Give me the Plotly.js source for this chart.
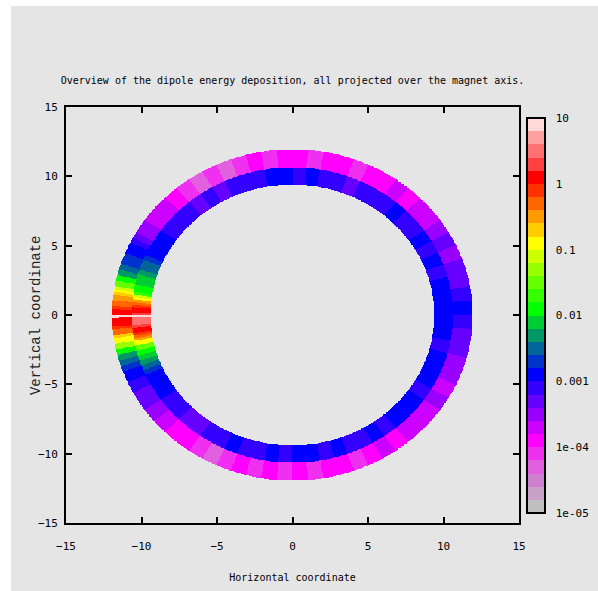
<!DOCTYPE html>
<html><head><meta charset="utf-8">
<script src="https://cdn.plot.ly/plotly-3.0.1.min.js"></script>
<style>html,body{margin:0;padding:0;background:#fff;}#chart{position:absolute;left:11px;top:6px;width:587px;height:585px;}</style>
</head><body><div id="chart"></div>
<script>
const titleText = "Overview of the dipole energy deposition, all projected over the magnet axis.";
const xTitleText = "Horizontal coordinate";
const yTitleText = "Vertical coordinate";
const axisTicks = [-15, -10, -5, 0, 5, 10, 15];

// ring radii: inner edge, boundary between the two layers, outer edge
const ringRadii = [9.4, 10.65, 11.95];

// angular bins (degrees, counter-clockwise from +x)
const angleEdges = [0,5,10,15,20,25,30,35,40,45,50,55,60,65,70,75,80,85,90,95,100,105,110,115,120,125,130,135,140,145,150,
  152,154,156,158,160,162,164,166,168,170,
  171,172,173,174,175,176,177,178,179,180,181,182,183,184,185,186,187,188,189,190,
  192,194,196,198,200,202,204,206,208,210,
  215,220,225,230,235,240,245,250,255,260,265,270,275,280,285,290,295,300,305,310,315,320,325,330,335,340,345,350,355,360];

// energy deposited per bin, inner layer
const innerLayer = [
  1.3e-3,1.3e-3,1.3e-3,8e-4,1.3e-3,8e-4,1.3e-3,8e-4,8e-4,1.3e-3,8e-4,8e-4,8e-4,5e-4,8e-4,8e-4,1.3e-3,8e-4,1.3e-3,1.3e-3,8e-4,8e-4,8e-4,5e-4,8e-4,5e-4,8e-4,8e-4,8e-4,1.3e-3,
  1.3e-3,1.3e-3,1.3e-3,2e-3,3.2e-3,3.2e-3,5e-3,8e-3,8e-3,1.3e-2,
  1.3e-2,2e-2,8e-2,0.13,0.32,0.5,0.8,1.3,1.3,2,8,3.2,3.2,3.2,2,1.3,1.3,0.8,0.5,0.32,
  0.13,3.2e-2,1.3e-2,8e-3,5e-3,3.2e-3,2e-3,1.3e-3,1.3e-3,1.3e-3,
  1.3e-3,8e-4,8e-4,5e-4,5e-4,8e-4,8e-4,1.3e-3,8e-4,8e-4,1.3e-3,8e-4,1.3e-3,1.3e-3,8e-4,1.3e-3,8e-4,8e-4,1.3e-3,8e-4,1.3e-3,1.3e-3,1.3e-3,8e-4,1.3e-3,1.3e-3,1.3e-3,8e-4,1.3e-3,1.3e-3];

// energy deposited per bin, outer layer
const outerLayer = [
  1.3e-3,8e-4,5e-4,5e-4,3.2e-4,5e-4,3.2e-4,2e-4,2e-4,1.3e-4,2e-4,1.3e-4,1.3e-4,8e-5,1.3e-4,1.3e-4,8e-5,1.3e-4,1.3e-4,8e-5,1.3e-4,8e-5,5e-5,8e-5,5e-5,8e-5,1.3e-4,2e-4,2e-4,3.2e-4,
  5e-4,8e-4,1.3e-3,1.3e-3,2e-3,2e-3,3.2e-3,5e-3,1.3e-2,3.2e-2,
  8e-2,0.13,0.2,0.32,0.32,0.5,0.5,0.8,1.3,1.3,8,1.3,1.3,1.3,0.8,0.5,0.5,0.2,0.13,0.13,
  5e-2,1.3e-2,5e-3,3.2e-3,2e-3,1.3e-3,1.3e-3,8e-4,8e-4,5e-4,
  5e-4,3.2e-4,2e-4,1.3e-4,1.3e-4,8e-5,5e-5,8e-5,1.3e-4,8e-5,1.3e-4,8e-5,1.3e-4,8e-5,1.3e-4,1.3e-4,8e-5,1.3e-4,2e-4,1.3e-4,2e-4,2e-4,2e-4,3.2e-4,2e-4,3.2e-4,3.2e-4,5e-4,5e-4,8e-4];

// colour box: 30 discrete bands from 1e-05 up to 10
const bandColors = [
  "#c0c0c0","#c8a0c8","#d080d0","#e060e0","#f030f0",
  "#ff00ff","#cc00ff","#9900ff","#6600ff","#3300ff",
  "#0000ff","#0033cc","#006699","#009966","#00cc33",
  "#00ff00","#33ff00","#66ff00","#99ff00","#ccff00",
  "#ffff00","#ffcc00","#ff9900","#ff6600","#ff3300",
  "#ff0000","#ff4040","#ff7070","#ffa0a0","#ffd8d8"];
const cbTickVals = [-5, -4, -3, -2, -1, 0, 1];
const cbTickText = ["1e-05", "1e-04", "0.001", "0.01", "0.1", "1", "10"];

// build the table the heatmap needs
const step = 0.05, lim = 12.2;
const gx = [];
for (let i = 0; -lim + i * step <= lim + 1e-9; i++) gx.push(+(-lim + i * step).toFixed(3));
const gy = gx.slice();
function binOf(th) {
  for (let i = 0; i < angleEdges.length - 1; i++) if (th >= angleEdges[i] && th < angleEdges[i + 1]) return i;
  return angleEdges.length - 2;
}
const z = gy.map(y => gx.map(x => {
  const r = Math.hypot(x, y);
  if (r < ringRadii[0] || r >= ringRadii[2]) return null;
  let th = Math.atan2(y, x) * 180 / Math.PI;
  if (th < 0) th += 360;
  const i = binOf(th);
  const v = r < ringRadii[1] ? innerLayer[i] : outerLayer[i];
  return Math.log10(v);
}));
const n = bandColors.length;
const colorscale = [];
bandColors.forEach((c, k) => { colorscale.push([k / n, c]); colorscale.push([(k + 1) / n, c]); });

const mono = "DejaVu Sans Mono";
const trace = {
  type: "heatmap", x: gx, y: gy, z: z, zmin: -5, zmax: 1, zsmooth: false,
  colorscale: colorscale, hoverinfo: "skip",
  colorbar: {
    x: 1.0177, xanchor: "left", xpad: 0, y: 0.9736, yanchor: "top", ypad: 0,
    len: 0.9495, lenmode: "fraction", thickness: 18, thicknessmode: "pixels",
    outlinewidth: 2, outlinecolor: "#000", borderwidth: 0,
    tickvals: cbTickVals, ticktext: cbTickText, ticks: "outside", ticklen: 8,
    tickcolor: "rgba(0,0,0,0)", tickfont: {family: mono, size: 11, color: "#000"}
  }
};
const axisCommon = {
  range: [-15, 15], tickvals: axisTicks, ticks: "inside", ticklen: 6, tickwidth: 2,
  tickcolor: "#000", showline: true, linecolor: "#000", linewidth: 2, mirror: "ticks",
  showgrid: false, zeroline: false, tickfont: {family: mono, size: 11, color: "#000"}
};
const layout = {
  width: 587, height: 585,
  paper_bgcolor: "#e5e5e5", plot_bgcolor: "#e5e5e5",
  margin: {l: 55, r: 79, t: 101, b: 68, autoexpand: false},
  title: {text: titleText, font: {family: mono, size: 10, color: "#000"},
          x: 0.5, xref: "paper", xanchor: "center", y: 1 - (80 - 6) / 585, yref: "container", yanchor: "middle"},
  xaxis: Object.assign({}, axisCommon, {ticklabelstandoff: 12,
    title: {text: xTitleText, font: {family: mono, size: 10, color: "#000"}, standoff: 22}}),
  yaxis: Object.assign({}, axisCommon, {ticklabelstandoff: 4}),
  annotations: [{
    text: yTitleText, textangle: -90, xref: "paper", yref: "paper",
    x: -0.066, y: 0.5, xanchor: "center", yanchor: "middle", showarrow: false,
    font: {family: "Liberation Mono", size: 14, color: "#222"}
  }],
  showlegend: false
};
Plotly.newPlot("chart", [trace], layout, {staticPlot: true, displayModeBar: false});
</script></body></html>
